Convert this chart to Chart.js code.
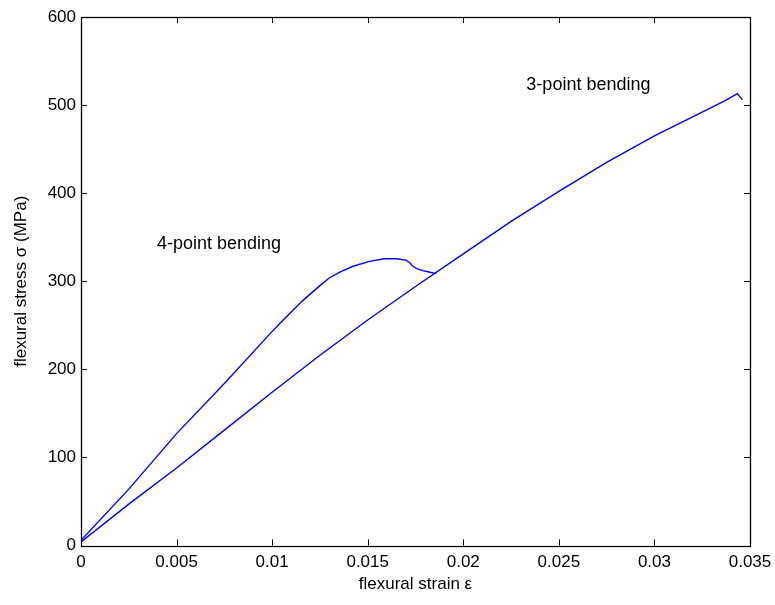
<!DOCTYPE html>
<html>
<head>
<meta charset="utf-8">
<script src="https://cdn.jsdelivr.net/npm/chart.js@4.4.0/dist/chart.umd.min.js"></script>
<style>
  html, body { margin: 0; padding: 0; background: #fff; }
  #wrap { width: 775px; height: 605px; }
</style>
</head>
<body>
<div id="wrap"><canvas id="chart"></canvas></div>
<script>
// values
const strain3 = [0, 0.0025, 0.005, 0.0075, 0.01, 0.0125, 0.015, 0.0175, 0.02, 0.0225, 0.025, 0.0275,
  0.03, 0.0325, 0.0337, 0.03434, 0.0346];
const stress3 = [4, 47, 88, 131, 174, 216, 256, 294, 331, 368, 402, 435,
  465, 492, 505, 513, 506];

const strain4 = [0, 0.0025, 0.005, 0.0075, 0.00987, 0.0104, 0.0116, 0.0125, 0.013, 0.0136, 0.01423, 0.0151,
  0.01588, 0.0165, 0.017, 0.0172, 0.01736, 0.0176, 0.01788, 0.0182, 0.01858];
const stress4 = [6, 64, 127, 184, 240, 252, 278, 295, 304, 311, 317, 322.6,
  325.6, 325.5, 324, 321, 317, 314, 312, 310.5, 308.6];

const xTicks = [0, 0.005, 0.01, 0.015, 0.02, 0.025, 0.03, 0.035];
const yTicks = [0, 100, 200, 300, 400, 500, 600];

const notes = [
  { text: '4-point bending', x: 0.00397, y: 337 },
  { text: '3-point bending', x: 0.0233, y: 517 }
];

const toPoints = (xs, ys) => xs.map((x, i) => ({ x, y: ys[i] }));

// box round the plot plus inward tick marks on all four sides
const boxPlugin = {
  id: 'box',
  afterDraw(chart) {
    const { ctx, chartArea: a, scales } = chart;
    const len = 6;
    ctx.save();
    ctx.strokeStyle = '#000';
    ctx.lineWidth = 1;
    ctx.beginPath();
    xTicks.forEach(v => {
      const px = Math.round(scales.x.getPixelForValue(v)) + 0.5;
      ctx.moveTo(px, a.bottom); ctx.lineTo(px, a.bottom - len);
      ctx.moveTo(px, a.top); ctx.lineTo(px, a.top + len);
    });
    yTicks.forEach(v => {
      const py = Math.round(scales.y.getPixelForValue(v)) + 0.5;
      ctx.moveTo(a.left, py); ctx.lineTo(a.left + len, py);
      ctx.moveTo(a.right, py); ctx.lineTo(a.right - len, py);
    });
    ctx.stroke();
    ctx.lineWidth = 1.3;
    ctx.strokeRect(Math.round(a.left) + 0.5, Math.round(a.top) + 0.5,
      Math.round(a.right - a.left), Math.round(a.bottom - a.top));

    ctx.fillStyle = '#000';
    ctx.font = '18px "Liberation Sans", Arial, sans-serif';
    ctx.textBaseline = 'alphabetic';
    notes.forEach(n => {
      ctx.fillText(n.text, scales.x.getPixelForValue(n.x), scales.y.getPixelForValue(n.y));
    });
    ctx.restore();
  }
};

const font = { family: '"Liberation Sans", Arial, sans-serif', size: 17 };

new Chart(document.getElementById('chart'), {
  type: 'line',
  data: {
    datasets: [
      {
        label: '3-point bending',
        data: toPoints(strain3, stress3),
        borderColor: '#0000ff',
        borderWidth: 1.4,
        pointRadius: 0,
        tension: 0
      },
      {
        label: '4-point bending',
        data: toPoints(strain4, stress4),
        borderColor: '#0000ff',
        borderWidth: 1.4,
        pointRadius: 0,
        tension: 0
      }
    ]
  },
  options: {
    responsive: true,
    maintainAspectRatio: false,
    animation: false,
    layout: { padding: { left: 0, right: 25, top: 17, bottom: 0 } },
    plugins: {
      legend: { display: false },
      tooltip: { enabled: false }
    },
    scales: {
      x: {
        type: 'linear',
        min: 0,
        max: 0.035,
        afterBuildTicks: s => { s.ticks = xTicks.map(v => ({ value: v })); },
        afterFit: s => { s.height = 59.5; s.paddingLeft = 0; s.paddingRight = 0; },
        grid: { display: false, drawTicks: false },
        border: { display: false },
        ticks: {
          color: '#000',
          font,
          padding: 7,
          maxRotation: 0,
          autoSkip: false,
          callback: v => String(+v.toFixed(4))
        },
        title: {
          display: true,
          text: 'flexural strain ε',
          color: '#000',
          font,
          padding: { bottom: 10 }
        }
      },
      y: {
        type: 'linear',
        min: 0,
        max: 600,
        afterBuildTicks: s => { s.ticks = yTicks.map(v => ({ value: v })); },
        afterFit: s => { s.width = 81; s.paddingTop = 0; s.paddingBottom = 0; },
        grid: { display: false, drawTicks: false },
        border: { display: false },
        ticks: {
          color: '#000',
          font,
          padding: 5,
          autoSkip: false,
          callback: v => String(v)
        },
        title: {
          display: true,
          text: 'flexural stress σ (MPa)',
          color: '#000',
          font,
          padding: { top: 11 }
        }
      }
    }
  },
  plugins: [boxPlugin]
});
</script>
</body>
</html>
